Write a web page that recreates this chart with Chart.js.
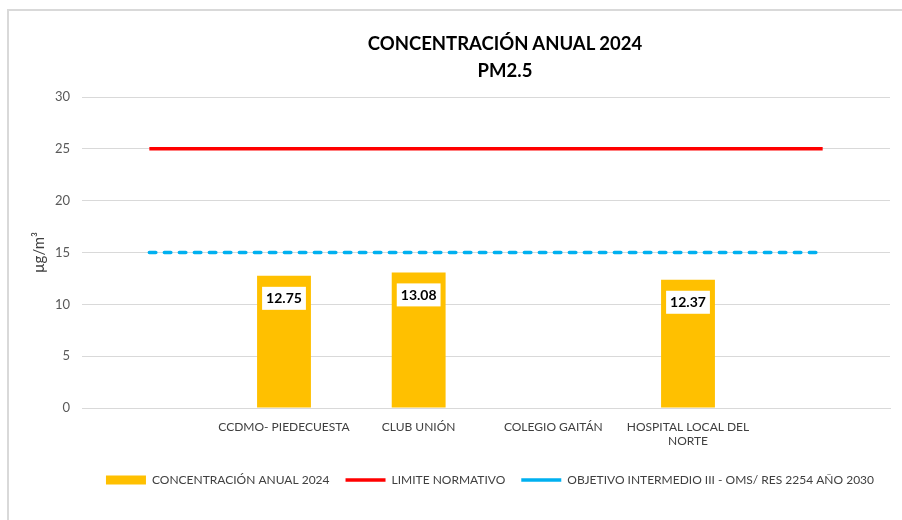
<!DOCTYPE html>
<html>
<head>
<meta charset="utf-8">
<script src="https://cdn.jsdelivr.net/npm/chart.js@4.4.1/dist/chart.umd.min.js"></script>
<style>
  html, body { margin: 0; padding: 0; background: #fff; }
  #wrap { position: relative; width: 902px; height: 520px; }
  #frame { position: absolute; left: 7px; top: 9px; right: 0; bottom: 0;
           border-left: 2px solid #d9d9d9; border-top: 2px solid #d9d9d9; pointer-events: none; }
  #title { position: absolute; left: 305px; width: 400px; top: 30px; text-align: center;
           font: bold 18.5px Lato, sans-serif; color: #000; line-height: 27px; }
</style>
</head>
<body>
<div id="wrap">
  <canvas id="chart" width="902" height="520"></canvas>
  <div id="frame"></div>
  <div id="title">CONCENTRACIÓN ANUAL 2024<br>PM2.5</div>
</div>
<script>
// ── Data ──────────────────────────────────────────────
const estaciones = ['', 'CCDMO- PIEDECUESTA', 'CLUB UNIÓN', 'COLEGIO GAITÁN', ['HOSPITAL LOCAL DEL', 'NORTE'], ''];
const concentracion = [null, 12.75, 13.08, null, 12.37, null];
const limiteNormativo = [25, 25, 25, 25, 25, 25];
const objetivoOMS = [15, 15, 15, 15, 15, 15];
const yTicks = [0, 5, 10, 15, 20, 25, 30];

const FONT = "Lato, 'Open Sans', sans-serif";
Chart.defaults.font.family = FONT;

// ── White value boxes on top of bars ──────────────────
const barLabels = {
  id: 'barLabels',
  afterDatasetsDraw(chart) {
    const ctx = chart.ctx;
    const meta = chart.getDatasetMeta(0);
    ctx.save();
    ctx.font = 'bold 14px ' + FONT;
    ctx.textAlign = 'center';
    ctx.textBaseline = 'middle';
    meta.data.forEach((bar, i) => {
      const v = concentracion[i];
      if (v == null) return;
      const txt = v.toFixed(2);
      const w = ctx.measureText(txt).width + 8;
      const top = bar.y + 11;
      ctx.fillStyle = '#ffffff';
      ctx.fillRect(bar.x - w / 2, top, w, 23);
      ctx.fillStyle = '#000000';
      ctx.fillText(txt, bar.x, top + 12);
    });
    ctx.restore();
  },
};

// legend sits centred under the plot area, not the whole canvas
const shiftLegend = {
  id: 'shiftLegend',
  afterLayout(chart) {
    if (!chart.legend) return;
    chart.legend.left += 45;
    chart.legend.right += 45;
  },
};

new Chart(document.getElementById('chart'), {
  data: {
    labels: estaciones,
    datasets: [
      {
        type: 'bar',
        label: 'CONCENTRACIÓN ANUAL 2024',
        data: concentracion,
        backgroundColor: '#FFC000',
        barPercentage: 0.8,
        categoryPercentage: 0.5,
        pointStyle: 'rect',
        order: 2,
      },
      {
        type: 'line',
        label: 'LIMITE NORMATIVO',
        data: limiteNormativo,
        borderColor: '#FF0000',
        backgroundColor: '#FF0000',
        borderWidth: 3.5,
        pointRadius: 0,
        pointStyle: 'line',
        fill: false,
        order: 1,
      },
      {
        type: 'line',
        label: 'OBJETIVO INTERMEDIO III - OMS/ RES 2254 AÑO 2030',
        data: objetivoOMS,
        borderColor: '#00B0F0',
        backgroundColor: '#00B0F0',
        borderWidth: 3.5,
        borderDash: [6.5, 8.5],
        borderCapStyle: 'round',
        pointRadius: 0,
        pointStyle: 'line',
        fill: false,
        order: 0,
      },
    ],
  },
  options: {
    responsive: false,
    animation: false,
    layout: { padding: { top: 97, right: 12, bottom: 24, left: 0 } },
    plugins: {
      legend: {
        position: 'bottom',
        labels: {
          usePointStyle: true,
          pointStyleWidth: 40,
          boxHeight: 9,
          padding: 16,
          color: '#404040',
          font: { size: 12 },
          sort: (a, b) => a.datasetIndex - b.datasetIndex,
          generateLabels(chart) {
            const items = Chart.defaults.plugins.legend.labels.generateLabels(chart);
            items.forEach(it => { it.pointStyleWidth = 40; });
            return items;
          },
        },
      },
      tooltip: { enabled: false },
    },
    scales: {
      x: {
        grid: { display: false },
        border: { color: '#d9d9d9', width: 1 },
        ticks: { color: '#404040', font: { size: 12 }, padding: 4, maxRotation: 0, autoSkip: false },
        afterFit(scale) { scale.height = 50; },
      },
      y: {
        min: 0,
        max: 30,
        afterBuildTicks(scale) { scale.ticks = yTicks.map(v => ({ value: v })); },
        grid: { color: '#d9d9d9', drawTicks: false },
        border: { display: false },
        ticks: { color: '#595959', font: { size: 13 }, padding: 12 },
        title: {
          display: true,
          text: 'µg/m³',
          color: '#404040',
          font: { size: 15 },
          padding: { top: 30, bottom: 0 },
        },
        afterFit(scale) { scale.width = 82; },
      },
    },
  },
  plugins: [barLabels, shiftLegend],
});
</script>
</body>
</html>
